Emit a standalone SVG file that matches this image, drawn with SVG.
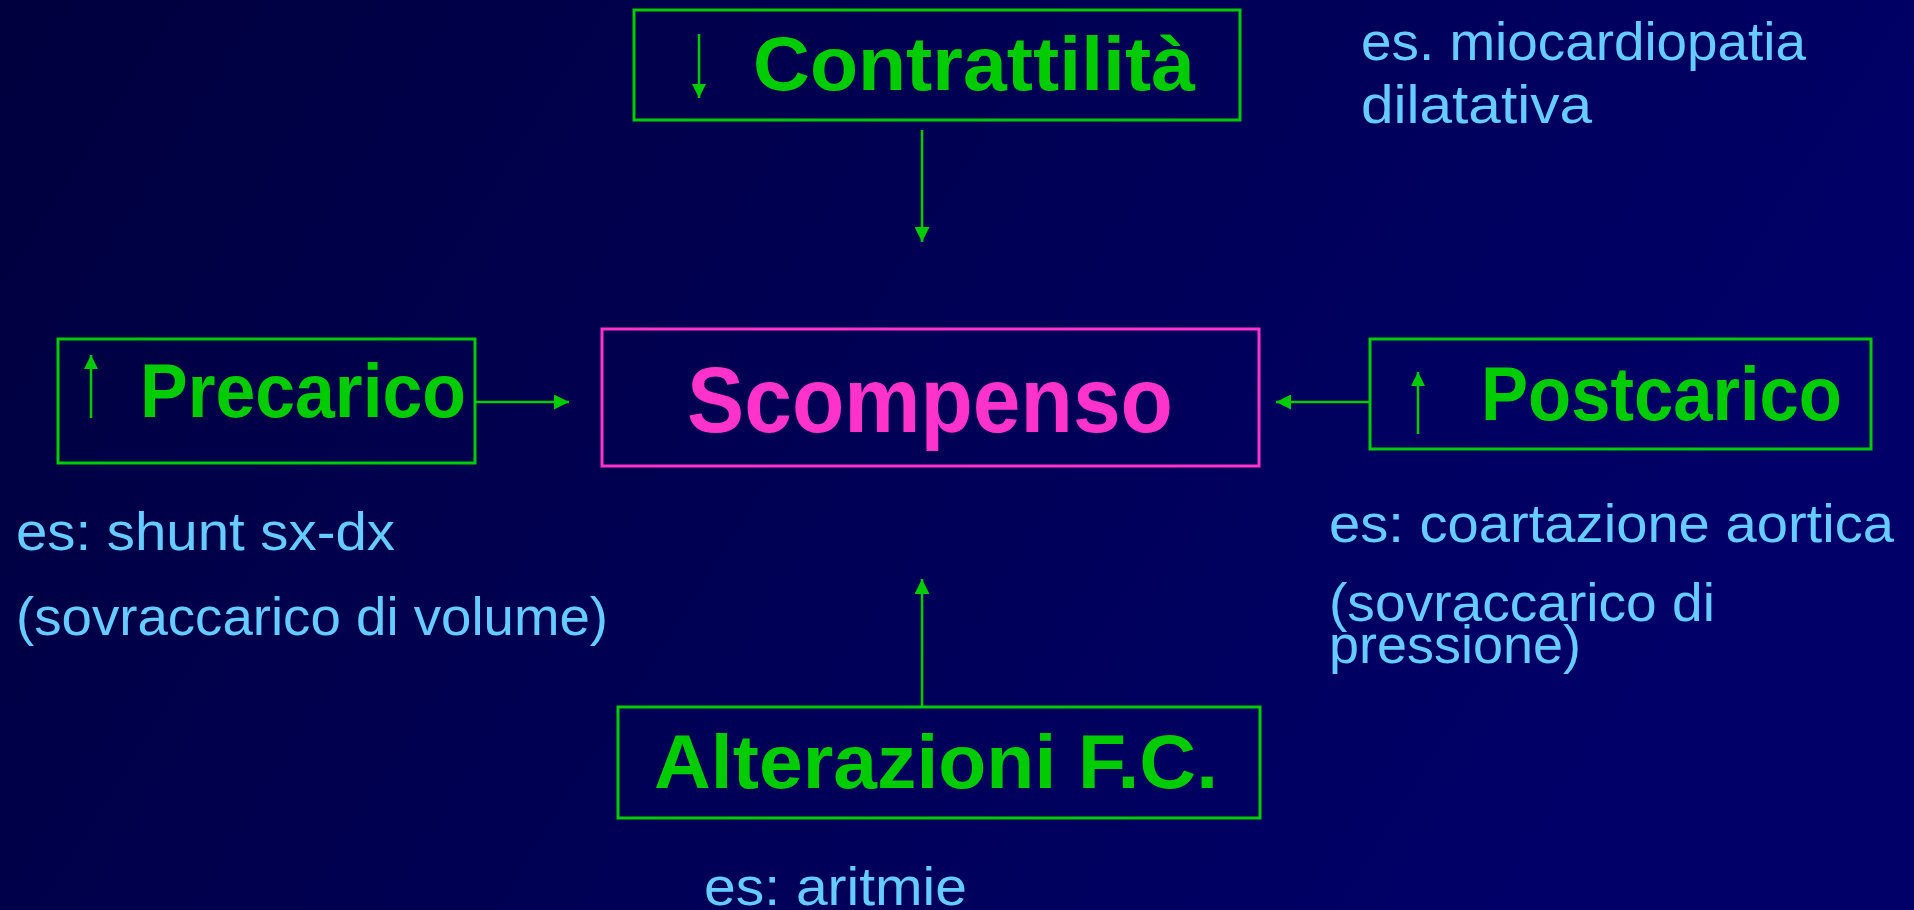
<svg xmlns="http://www.w3.org/2000/svg" width="1914" height="910" viewBox="0 0 1914 910">
<defs>
<linearGradient id="bg" x1="0" y1="0" x2="1" y2="0.3">
<stop offset="0" stop-color="#00003e"/>
<stop offset="1" stop-color="#000068"/>
</linearGradient>
<marker id="ah" viewBox="0 0 10 10" refX="10" refY="5" markerWidth="15" markerHeight="15" markerUnits="userSpaceOnUse" orient="auto">
<path d="M0,0 L10,5 L0,10 z" fill="#00cc00"/>
</marker>
<marker id="ahs" viewBox="0 0 10 10" refX="10" refY="5" markerWidth="16" markerHeight="14" markerUnits="userSpaceOnUse" orient="auto">
<path d="M0,0 L10,5 L0,10 z" fill="#00cc00"/>
</marker>
<style>
.gbox{fill:none;stroke:#00cc00;stroke-width:3}
.pbox{fill:none;stroke:#ff33cc;stroke-width:3}
.conn{stroke:#00cc00;stroke-width:2.5;fill:none;marker-end:url(#ah)}
.sarr{stroke:#00cc00;stroke-width:2.5;fill:none;marker-end:url(#ahs)}
.lbl{font-family:"Comic Sans MS","Liberation Sans",sans-serif;font-weight:bold;font-size:76px;fill:#00cc00}
.main{font-family:"Comic Sans MS","Liberation Sans",sans-serif;font-weight:bold;font-size:92px;fill:#ff33cc}
.note{font-family:"Comic Sans MS","Liberation Sans",sans-serif;font-size:54px;fill:#66ccff}
</style>
</defs>
<rect x="0" y="0" width="1914" height="910" fill="url(#bg)"/>

<g id="contrattilita">
<rect class="gbox" x="634" y="10" width="606" height="110"/>
<line class="sarr" x1="699" y1="34" x2="699" y2="98"/>
<text class="lbl" x="753" y="90" textLength="442" lengthAdjust="spacingAndGlyphs">Contrattilità</text>
</g>

<g id="precarico">
<rect class="gbox" x="58" y="339" width="417" height="124"/>
<line class="sarr" x1="91" y1="418" x2="91" y2="355"/>
<text class="lbl" x="140" y="417" textLength="326" lengthAdjust="spacingAndGlyphs">Precarico</text>
</g>

<g id="scompenso">
<rect class="pbox" x="602" y="329" width="657" height="137"/>
<text class="main" x="687" y="432" textLength="486" lengthAdjust="spacingAndGlyphs">Scompenso</text>
</g>

<g id="postcarico">
<rect class="gbox" x="1370" y="339" width="501" height="110"/>
<line class="sarr" x1="1418" y1="434" x2="1418" y2="372"/>
<text class="lbl" x="1481" y="420" textLength="361" lengthAdjust="spacingAndGlyphs">Postcarico</text>
</g>

<g id="alterazioni">
<rect class="gbox" x="618" y="707" width="642" height="111"/>
<text class="lbl" x="654" y="788" textLength="564" lengthAdjust="spacingAndGlyphs">Alterazioni F.C.</text>
</g>

<g id="notes">
<text class="note" x="1361" y="60" textLength="445" lengthAdjust="spacingAndGlyphs">es. miocardiopatia</text>
<text class="note" x="1361" y="123" textLength="231" lengthAdjust="spacingAndGlyphs">dilatativa</text>
<text class="note" x="16" y="550" textLength="379" lengthAdjust="spacingAndGlyphs">es: shunt sx-dx</text>
<text class="note" x="16" y="635" textLength="592" lengthAdjust="spacingAndGlyphs">(sovraccarico di volume)</text>
<text class="note" x="1329" y="542" textLength="565" lengthAdjust="spacingAndGlyphs">es: coartazione aortica</text>
<text class="note" x="1329" y="621" textLength="386" lengthAdjust="spacingAndGlyphs">(sovraccarico di</text>
<text class="note" x="1329" y="663" textLength="252" lengthAdjust="spacingAndGlyphs">pressione)</text>
<text class="note" x="704" y="905" textLength="263" lengthAdjust="spacingAndGlyphs">es: aritmie</text>
</g>

<g id="connectors">
<line class="conn" x1="922" y1="130" x2="922" y2="242"/>
<line class="conn" x1="922" y1="707" x2="922" y2="579"/>
<line class="conn" x1="475" y1="402" x2="569" y2="402"/>
<line class="conn" x1="1370" y1="402" x2="1276" y2="402"/>
</g>
</svg>
